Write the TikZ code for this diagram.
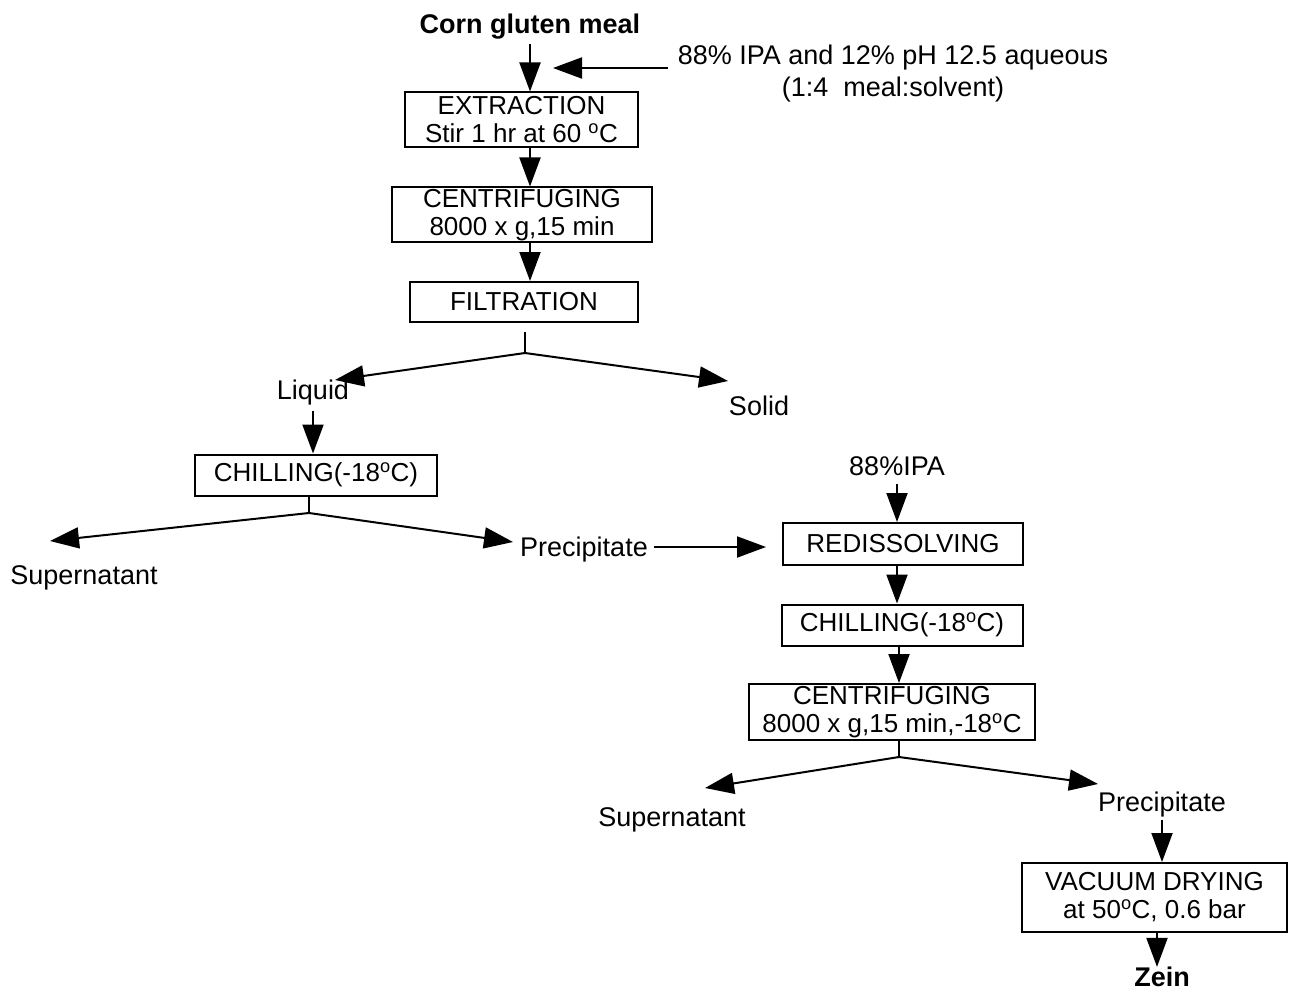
\documentclass[tikz,border=0pt]{standalone}
\usepackage{fontspec}
\setmainfont{Liberation Sans}
\usetikzlibrary{arrows.meta}
\newcommand{\dg}{\textsuperscript{o}}
\begin{document}
\begin{tikzpicture}[x=1pt,y=-1pt,
  every node/.style={font=\fontsize{27}{26}\selectfont, inner sep=0pt},
  box/.style={draw, line width=2pt, align=center, font=\fontsize{26}{28}\selectfont},
  arr/.style={line width=2pt, -{Triangle[length=29pt,width=21pt]}},
  ln/.style={line width=2pt}]
\useasboundingbox (0,0) rectangle (1289,992);
\fill[white] (0,0) rectangle (1289,992);

% top
\node[font=\fontsize{27}{26}\selectfont\bfseries] (corn) at (530,27) {Corn gluten meal};
\node[align=center, font=\fontsize{27}{32}\selectfont] (ipa) at (893,74) {88\% IPA and 12\% pH 12.5 aqueous\\(1:4~~meal:solvent)};
\coordinate (ipaS) at (668,68);
\coordinate (ipaT) at (553,68);

\node[box, minimum width=233pt, minimum height=55pt] (ext) at (521.5,120) {EXTRACTION\\Stir 1 hr at 60 \dg C};
\node[box, minimum width=260pt, minimum height=55pt] (cen1) at (522,215) {CENTRIFUGING\\8000 x g,15 min};
\node[box, minimum width=228pt, minimum height=40pt] (filt) at (524,302) {FILTRATION};

\draw[arr] ([yshift=-4pt]corn.south) -- (corn.south |- ext.north);
\draw[arr] (ipaS) -- (ipaT);
\draw[arr] (ext.south -| corn) -- (cen1.north -| corn);
\draw[arr] (cen1.south -| corn) -- (filt.north -| corn);

% filtration split
\coordinate (j1) at (525,353);
\coordinate (j1top) at (525,332);
\coordinate (liqT) at (335,380);
\coordinate (solT) at (728,381);
\node (liq) at (313,393) {Liquid};
\node (sol) at (759,406) {Solid};
\draw[ln] (j1top) -- (j1);
\draw[arr] (j1) -- (liqT);
\draw[arr] (j1) -- (solT);

\node[box, minimum width=242pt, minimum height=41pt] (ch1) at (316,475) {CHILLING(-18\dg C)};
\draw[arr] ([yshift=-5pt]liq.south) -- (liq.south |- ch1.north);

% chilling split
\coordinate (j2) at (309,513);
\coordinate (sup1T) at (50,541);
\coordinate (pre1T) at (513,542);
\node (sup1) at (84,578) {Supernatant};
\node (pre1) at (584,550) {Precipitate};
\draw[ln] (ch1.south -| j2) -- (j2);
\draw[arr] (j2) -- (sup1T);
\draw[arr] (j2) -- (pre1T);

% right column
\node (ipa2) at (897,466) {88\%IPA};
\node[box, minimum width=240pt, minimum height=42pt] (red) at (903,544) {REDISSOLVING};
\node[box, minimum width=241pt, minimum height=41pt] (ch2) at (902,625) {CHILLING(-18\dg C)};
\node[box, minimum width=286pt, minimum height=56pt] (cen2) at (892,712) {CENTRIFUGING\\8000 x g,15 min,-18\dg C};

\draw[arr] ([xshift=6pt,yshift=3pt]pre1.east) -- ([xshift=-16pt,yshift=3pt]pre1.east -| red.west);
\draw[arr] ([yshift=-8pt]ipa2.south) -- (ipa2.south |- red.north);
\draw[arr] (red.south -| ipa2) -- (ch2.north -| ipa2);
\draw[arr] ([xshift=2pt]ch2.south -| ipa2) -- ([xshift=2pt]cen2.north -| ipa2);

% centrifuging split
\coordinate (j3) at (899,757);
\coordinate (sup2T) at (705,788);
\coordinate (pre2T) at (1098,784);
\node (sup2) at (672,820) {Supernatant};
\node (pre2) at (1162,805) {Precipitate};
\draw[ln] (cen2.south -| j3) -- (j3);
\draw[arr] (j3) -- (sup2T);
\draw[arr] (j3) -- (pre2T);

\node[box, minimum width=265pt, minimum height=69pt] (vac) at (1154.5,897.5) {VACUUM DRYING\\at 50\dg C, 0.6 bar};
\node[font=\fontsize{27}{26}\selectfont\bfseries] (zein) at (1162,977) {Zein};
\draw[arr] ([yshift=-2pt]pre2.south) -- (pre2.south |- vac.north);
\draw[arr] (vac.south -| 1157,0) -- (zein.north -| 1157,0);
\end{tikzpicture}
\end{document}
